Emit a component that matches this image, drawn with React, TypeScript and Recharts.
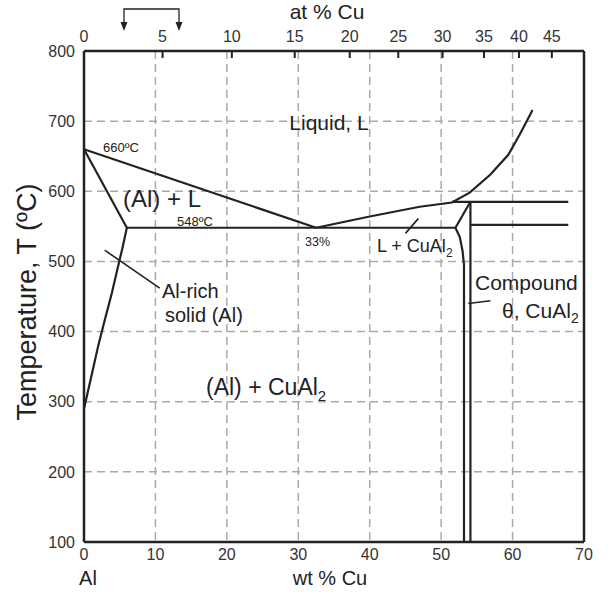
import React from 'react';
import { ComposedChart, Line, XAxis, YAxis, CartesianGrid, ReferenceLine } from 'recharts';

// axis ticks
const wtTicks = [0, 10, 20, 30, 40, 50, 60, 70];
const tempTicks = [100, 200, 300, 400, 500, 600, 700, 800];
// top axis: at % Cu labels and where they fall on the wt % scale
const atLabels = [0, 5, 10, 15, 20, 25, 30, 35, 40, 45];
const atTickWt = [0, 11.0, 20.7, 29.5, 37.2, 44.0, 50.2, 56.0, 60.9, 65.5];

// phase boundaries (wt % Cu, T in C)
const alLiquidus = [{ x: 0, y: 660 }, { x: 32.5, y: 548 }];
const alSolidus = [{ x: 0, y: 660 }, { x: 6, y: 548 }];
const solvus = [
  { x: 6, y: 548 }, { x: 5.4, y: 520 }, { x: 4.7, y: 490 }, { x: 3.9, y: 455 },
  { x: 3.0, y: 420 }, { x: 2.0, y: 380 }, { x: 1.0, y: 335 }, { x: 0, y: 290 },
];
const eutectic = [{ x: 6, y: 548 }, { x: 52, y: 548 }];
const cuLiquidus = [
  { x: 32.5, y: 548 }, { x: 40, y: 564 }, { x: 47, y: 578 }, { x: 51.5, y: 584 },
  { x: 54, y: 598 }, { x: 56.9, y: 624 }, { x: 59.4, y: 652 }, { x: 61, y: 681 }, { x: 62.8, y: 716 },
];
const peritectic = [{ x: 51.5, y: 585 }, { x: 67.8, y: 585 }];
const lowerRight = [{ x: 54.1, y: 552 }, { x: 67.8, y: 552 }];
const thetaLeft = [
  { x: 52, y: 548 }, { x: 52.6, y: 535 }, { x: 53.0, y: 515 }, { x: 53.2, y: 495 }, { x: 53.2, y: 100 },
];
const thetaRight = [{ x: 54.1, y: 585 }, { x: 54.1, y: 100 }];
const thetaLiq = [{ x: 52, y: 548 }, { x: 54.1, y: 585 }];

// label leaders
const leadAlRich = [{ x: 2.9, y: 516 }, { x: 10.6, y: 462 }];
const leadLCu = [{ x: 45.0, y: 540 }, { x: 46.8, y: 561 }];
const leadTheta = [{ x: 53.8, y: 440 }, { x: 56.9, y: 444 }];

const boundaries = [
  alLiquidus, alSolidus, solvus, eutectic, cuLiquidus, peritectic,
  lowerRight, thetaLeft, thetaRight, thetaLiq,
];
const leaders = [leadAlRich, leadLCu, leadTheta];

const W = 613;
const H = 600;
const FONT = '"Liberation Sans", Arial, Helvetica, sans-serif';
const INK = '#222';

export default function App() {
  const t = { fontSize: 16, fill: '#333', fontFamily: FONT };
  return (
    <div style={{ position: 'relative', width: W, height: H, background: '#fff' }}>
      <style>{'body{margin:0}'}</style>
      <ComposedChart width={W} height={H} margin={{ top: 21, right: 28, bottom: 28, left: 24 }}>
        <CartesianGrid xAxisId="bottom" yAxisId="left" stroke="#aaa" strokeWidth={1.5} strokeDasharray="8 5" />
        <XAxis
          xAxisId="bottom" type="number" dataKey="x" domain={[0, 70]} ticks={wtTicks}
          tickLine={false} tickSize={0} tickMargin={7} height={30}
          axisLine={{ stroke: INK, strokeWidth: 2.5 }} tick={t}
        />
        <XAxis
          xAxisId="top" orientation="top" type="number" dataKey="x" domain={[0, 70]} ticks={atTickWt}
          interval={0} tickSize={0} tickMargin={9} height={30} tickLine={false}
          tickFormatter={(v: number) => String(atLabels[atTickWt.indexOf(v)])}
          axisLine={{ stroke: INK, strokeWidth: 2.5 }} tick={t}
        />
        <YAxis
          yAxisId="left" type="number" domain={[100, 800]} ticks={tempTicks}
          tickLine={false} tickSize={0} tickMargin={9} width={60}
          axisLine={{ stroke: INK, strokeWidth: 2.5 }} tick={t}
        />
        <YAxis
          yAxisId="right" orientation="right" type="number" domain={[100, 800]}
          tick={false} tickLine={false} width={1} axisLine={{ stroke: INK, strokeWidth: 2.5 }}
        />
        {boundaries.map((d, i) => (
          <Line
            key={'b' + i} xAxisId="bottom" yAxisId="left" data={d} dataKey="y" type="linear"
            stroke={INK} strokeWidth={2.2} dot={false} isAnimationActive={false}
          />
        ))}
        {leaders.map((d, i) => (
          <Line
            key={'l' + i} xAxisId="bottom" yAxisId="left" data={d} dataKey="y" type="linear"
            stroke={INK} strokeWidth={1.6} dot={false} isAnimationActive={false}
          />
        ))}
        {/* keeps the top axis bound to a series */}
        <Line
          xAxisId="top" yAxisId="left" data={eutectic} dataKey="y" stroke="none"
          dot={false} isAnimationActive={false}
        />
        {/* inward tick marks of the at % axis */}
        {atTickWt.slice(1).map((v) => (
          <ReferenceLine
            key={'tt' + v} xAxisId="top" yAxisId="left" ifOverflow="visible"
            segment={[{ x: v, y: 800 }, { x: v, y: 790 }]}
            stroke={INK} strokeWidth={2}
          />
        ))}
      </ComposedChart>
      <svg width={W} height={H} style={{ position: 'absolute', left: 0, top: 0, pointerEvents: 'none' }}
        fontFamily={FONT} fill="#222">
        <text x={327} y={19} fontSize={21} textAnchor="middle">at % Cu</text>
        <path d="M124,29 V9 H179 V29" fill="none" stroke={INK} strokeWidth={1.3} />
        <path d="M120.5,22 L124,31 L127.5,22 Z" />
        <path d="M175.5,22 L179,31 L182.5,22 Z" />
        <text x={329} y={130} fontSize={21} textAnchor="middle">Liquid, L</text>
        <text x={103} y={152} fontSize={13}>660ºC</text>
        <text x={162} y={207} fontSize={24} textAnchor="middle">(Al) + L</text>
        <text x={177} y={226} fontSize={13}>548ºC</text>
        <text x={305} y={246} fontSize={12.5}>33%</text>
        <text x={377} y={252} fontSize={18}>L + CuAl<tspan fontSize={12} dy={5}>2</tspan></text>
        <text x={162} y={298} fontSize={20}>Al-rich</text>
        <text x={165} y={322} fontSize={20}>solid (Al)</text>
        <text x={475} y={290} fontSize={21}>Compound</text>
        <text x={502} y={318} fontSize={21}>θ, CuAl<tspan fontSize={14} dy={5}>2</tspan></text>
        <text x={206} y={395} fontSize={23}>(Al) + CuAl<tspan fontSize={15} dy={6}>2</tspan></text>
        <text x={88} y={585} fontSize={20} textAnchor="middle">Al</text>
        <text x={330} y={585} fontSize={20} textAnchor="middle">wt % Cu</text>
        <text x={0} y={0} fontSize={27} textAnchor="middle" transform="translate(36,302) rotate(-90)">
          Temperature, T (ºC)
        </text>
      </svg>
    </div>
  );
}
